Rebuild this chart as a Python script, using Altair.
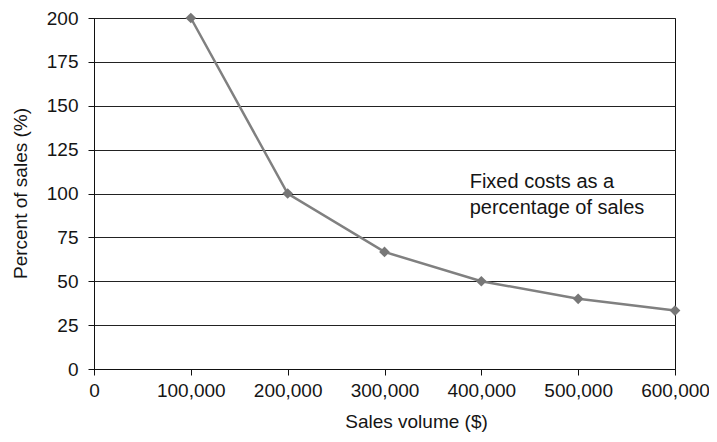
import altair as alt
import pandas as pd

sales = [100000, 200000, 300000, 400000, 500000, 600000]
pct = [200, 100, 66.7, 50, 40, 33.3]
x_ticks = [0, 100000, 200000, 300000, 400000, 500000, 600000]
y_ticks = [0, 25, 50, 75, 100, 125, 150, 175, 200]
note_lines = ["Fixed costs as a", "percentage of sales"]
note_pos = [388000, 103.3]

df = pd.DataFrame({"sales": sales, "pct": pct})
note_df = pd.DataFrame({"x": [note_pos[0]], "y": [note_pos[1]], "t": [note_lines]})

FONT = "Liberation Sans"
GRAY = "#808080"
INK = "#151515"

x_enc = alt.X(
    "sales:Q",
    scale=alt.Scale(domain=[0, 600000], nice=False),
    axis=alt.Axis(
        values=x_ticks, format=",d", title="Sales volume ($)", grid=False,
        labelOverlap=False, labelBound=False, labelFlush=False,
        domainColor="#111", tickColor="#111", tickSize=6, labelPadding=6,
        labelFontSize=19, labelColor=INK, titleFontSize=19, titleColor=INK,
        titleFontWeight="normal", titleX=322, titleY=58, titleBaseline="alphabetic",
        titleAnchor="middle", titleAlign="center",
    ),
)
y_enc = alt.Y(
    "pct:Q",
    scale=alt.Scale(domain=[0, 200], nice=False),
    axis=alt.Axis(
        values=y_ticks, title="Percent of sales (%)", grid=True, gridColor="#222",
        labelOverlap=False, labelFlush=False,
        gridWidth=1, domainColor="#111", tickColor="#111", tickSize=6, labelPadding=10,
        labelFontSize=19, labelColor=INK, titleFontSize=19, titleColor=INK,
        titleFontWeight="normal", titleAngle=-90, titleX=-68, titleY=175,
        titleAlign="center", titleBaseline="alphabetic",
    ),
)

line = alt.Chart(df).mark_line(color=GRAY, strokeWidth=2.5).encode(x=x_enc, y=y_enc)
pts = alt.Chart(df).mark_point(shape="diamond", filled=True, size=115, color="#777777", opacity=1).encode(
    x="sales:Q", y="pct:Q"
)
note = alt.Chart(note_df).mark_text(
    align="left", baseline="alphabetic", fontSize=20, font=FONT, color=INK, lineHeight=26
).encode(x="x:Q", y="y:Q", text="t")

chart = (
    alt.layer(line, pts, note)
    .properties(
        width=581, height=351,
        autosize=alt.AutoSizeParams(type="none"),
        padding={"left": 86, "top": 10, "right": 34, "bottom": 64},
    )
    .configure(font=FONT)
    .configure_view(stroke="#111", strokeWidth=1)
    .configure_axis(labelFont=FONT, titleFont=FONT)
)

chart.save("out.html", embed_options={"renderer": "svg", "actions": False})
